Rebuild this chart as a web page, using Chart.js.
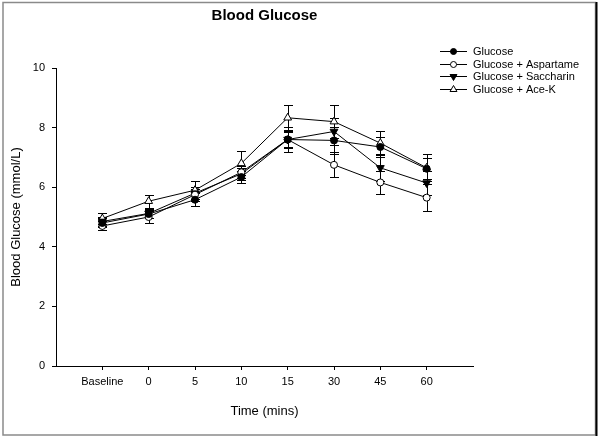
<!DOCTYPE html>
<html>
<head>
<meta charset="utf-8">
<title>Blood Glucose</title>
<script src="https://cdn.jsdelivr.net/npm/chart.js@4.4.0/dist/chart.umd.min.js"></script>
<style>
  html, body { margin: 0; padding: 0; background: #fff; }
  #wrap { width: 600px; height: 439px; position: relative; }
</style>
</head>
<body>
<div id="wrap"><canvas id="chart"></canvas></div>
<script>
// Time points on the x axis
const timeLabels = ['Baseline', '0', '5', '10', '15', '30', '45', '60'];

// Mean blood glucose (mmol/L)
const glucose    = [4.80, 5.10, 5.58, 6.34, 7.60, 7.57, 7.35, 6.62];
const aspartame  = [4.70, 5.00, 5.75, 6.50, 7.60, 6.75, 6.16, 5.65];
const saccharin  = [4.85, 5.12, 5.80, 6.45, 7.60, 7.87, 6.65, 6.14];
const aceK       = [4.95, 5.53, 5.90, 6.80, 8.33, 8.20, 7.48, 6.65];

// Error bar half-lengths (mmol/L)
const glucoseErr   = [0.15, 0.15, 0.22, 0.20, 0.30, 0.45, 0.35, 0.35];
const aspartameErr = [0.15, 0.20, 0.20, 0.20, 0.43, 0.42, 0.40, 0.45];
const saccharinErr = [0.15, 0.15, 0.20, 0.20, 0.25, 0.45, 0.45, 0.40];
const aceKErr      = [0.19, 0.22, 0.30, 0.40, 0.42, 0.55, 0.40, 0.45];

const FONT = '"Liberation Sans", Arial, sans-serif';

function toPoints(values) {
    return values.map((v, i) => ({ x: i, y: v }));
}

function makeDataset(label, values, errors, style, rotation, fill) {
    return {
        label: label,
        data: toPoints(values),
        errors: errors,
        borderColor: '#000',
        borderWidth: 1,
        tension: 0,
        pointStyle: style,
        rotation: rotation,
        pointRadius: style === 'circle' ? 3.5 : 4.5,
        pointBackgroundColor: fill,
        pointBorderColor: '#000',
        pointBorderWidth: 1
    };
}

// Outer frame of the picture
const frame = {
    id: 'frame',
    beforeDraw(chart) {
        const ctx = chart.ctx;
        ctx.save();
        ctx.fillStyle = '#fff';
        ctx.fillRect(0, 0, chart.width, chart.height);
        ctx.strokeStyle = '#8a8a8a';
        ctx.lineWidth = 1.5;
        ctx.strokeRect(3, 2.5, 592.5, 432.5);
        ctx.strokeStyle = '#000';
        ctx.lineWidth = 2;
        ctx.beginPath();
        ctx.moveTo(596.5, 2);
        ctx.lineTo(596.5, 436);
        ctx.stroke();
        ctx.restore();
    }
};

// Vertical error bars with caps, drawn behind the markers
const errorBars = {
    id: 'errorBars',
    beforeDatasetsDraw(chart) {
        const { ctx, scales: { x, y } } = chart;
        ctx.save();
        ctx.strokeStyle = '#000';
        ctx.lineWidth = 1;
        chart.data.datasets.forEach(ds => {
            ds.data.forEach((p, i) => {
                const e = ds.errors[i];
                const px = Math.round(x.getPixelForValue(p.x)) + 0.5;
                const top = Math.round(y.getPixelForValue(p.y + e)) + 0.5;
                const bot = Math.round(y.getPixelForValue(p.y - e)) + 0.5;
                ctx.beginPath();
                ctx.moveTo(px, top); ctx.lineTo(px, bot);
                ctx.moveTo(px - 4.5, top); ctx.lineTo(px + 4.5, top);
                ctx.moveTo(px - 4.5, bot); ctx.lineTo(px + 4.5, bot);
                ctx.stroke();
            });
        });
        ctx.restore();
    }
};

// Legend in the SigmaPlot style: a short line with the marker on it
const lineLegend = {
    id: 'lineLegend',
    afterDraw(chart) {
        const ctx = chart.ctx;
        ctx.save();
        ctx.font = '11px ' + FONT;
        ctx.textBaseline = 'middle';
        chart.data.datasets.forEach((ds, i) => {
            const yy = Math.round(51 + i * 12.5) + 0.5;
            ctx.strokeStyle = '#000';
            ctx.lineWidth = 1;
            ctx.beginPath();
            ctx.moveTo(440, yy);
            ctx.lineTo(467, yy);
            ctx.stroke();
            ctx.fillStyle = ds.pointBackgroundColor;
            Chart.helpers.drawPoint(ctx, {
                pointStyle: ds.pointStyle,
                rotation: ds.rotation,
                radius: ds.pointStyle === 'circle' ? 3 : 4,
                borderWidth: 1
            }, 453.5, yy);
            ctx.fillStyle = '#000';
            ctx.fillText(ds.label, 473, yy);
        });
        ctx.restore();
    }
};

new Chart(document.getElementById('chart'), {
    type: 'line',
    data: {
        datasets: [
            makeDataset('Glucose', glucose, glucoseErr, 'circle', 0, '#000'),
            makeDataset('Glucose + Aspartame', aspartame, aspartameErr, 'circle', 0, '#fff'),
            makeDataset('Glucose + Saccharin', saccharin, saccharinErr, 'triangle', 180, '#000'),
            makeDataset('Glucose + Ace-K', aceK, aceKErr, 'triangle', 0, '#fff')
        ]
    },
    options: {
        responsive: true,
        maintainAspectRatio: false,
        animation: false,
        layout: { padding: { left: 0, right: 127, top: 0, bottom: 0 } },
        plugins: {
            legend: { display: false },
            tooltip: { enabled: false },
            title: {
                display: true,
                text: 'Blood Glucose',
                fullSize: false,
                color: '#000',
                font: { family: FONT, size: 15, weight: 'bold' },
                padding: { top: 7, bottom: 43 }
            }
        },
        scales: {
            x: {
                type: 'linear',
                min: -1,
                max: 8,
                afterBuildTicks: scale => {
                    scale.ticks = timeLabels.map((_, i) => ({ value: i }));
                },
                afterFit: scale => { scale.height = 73; },
                ticks: {
                    color: '#000',
                    font: { family: FONT, size: 11 },
                    padding: 5,
                    maxRotation: 0,
                    autoSkip: false,
                    callback: value => timeLabels[value]
                },
                grid: { drawOnChartArea: false, drawTicks: true, tickLength: 4, color: '#000' },
                border: { display: true, color: '#000', width: 1 },
                title: {
                    display: true,
                    text: 'Time (mins)',
                    color: '#000',
                    font: { family: FONT, size: 13 },
                    padding: { top: 0, bottom: 20 }
                }
            },
            y: {
                min: 0,
                max: 10,
                afterFit: scale => { scale.width = 56; },
                ticks: {
                    stepSize: 2,
                    color: '#000',
                    font: { family: FONT, size: 11 },
                    padding: 7
                },
                grid: { drawOnChartArea: false, drawTicks: true, tickLength: 4, color: '#000' },
                border: { display: true, color: '#000', width: 1 },
                title: {
                    display: true,
                    text: 'Blood Glucose (mmol/L)',
                    color: '#000',
                    font: { family: FONT, size: 13 },
                    padding: { top: 9, bottom: 0 }
                }
            }
        }
    },
    plugins: [frame, errorBars, lineLegend]
});
</script>
</body>
</html>
